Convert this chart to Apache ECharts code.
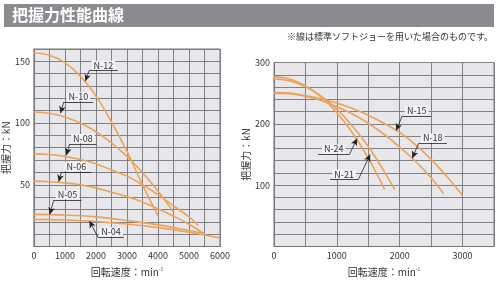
<!DOCTYPE html>
<html>
<head>
<meta charset="utf-8">
<script src="https://cdn.jsdelivr.net/npm/echarts@6/dist/echarts.min.js"></script>
<style>
  html, body { margin: 0; padding: 0; background: #fff; }
  #chart { width: 500px; height: 282px; }
</style>
</head>
<body>
<div id="chart"></div>
<script>
// left chart: N-04 .. N-12  (rpm, kN)
var rpmN12 = [0, 500, 1000, 1500, 2000, 2500, 3000, 3500, 4000];
var gripN12 = [157, 155, 149, 138, 122, 101, 77, 50, 25];
var rpmN10 = [0, 500, 1000, 1500, 2000, 2500, 3000, 3500, 4000, 4500];
var gripN10 = [109, 108, 105, 100, 93, 84, 73, 60, 45, 28];
var rpmN08 = [0, 500, 1000, 1500, 2000, 2500, 3000, 3500, 4000, 4500, 5000, 5300];
var gripN08 = [75, 74.5, 73, 70.5, 67, 62, 57, 50, 42, 33, 24, 17];
var rpmN06 = [0, 500, 1000, 1500, 2000, 2500, 3000, 3500, 4000, 4500, 5000, 5500];
var gripN06 = [53, 52.5, 51.5, 50, 47.5, 44, 40.5, 36, 30.5, 24.5, 18, 10];
var rpmN05 = [0, 1000, 2000, 3000, 4000, 5000, 5500];
var gripN05 = [26, 25.5, 24, 21, 17.5, 13, 10.5];
var rpmN04 = [0, 1000, 2000, 3000, 4000, 5000, 6000];
var gripN04 = [22, 21.5, 20.3, 18.2, 15.3, 11.5, 7];

// right chart: N-15 .. N-24
var rpmN15 = [0, 250, 500, 750, 1000, 1250, 1500, 1750, 2000, 2250, 2500, 2750, 3000];
var gripN15 = [251, 250, 246, 241, 234, 225, 214, 201, 186, 166, 142, 114, 83];
var rpmN18 = [0, 250, 500, 750, 1000, 1250, 1500, 1750, 2000, 2250, 2500, 2700];
var gripN18 = [250, 249, 245, 238, 228, 216, 201, 183, 162, 139, 112, 86];
var rpmN21 = [0, 250, 500, 750, 1000, 1250, 1500, 1750, 1920];
var gripN21 = [273, 270, 261, 245, 224, 196, 163, 123, 93];
var rpmN24 = [0, 250, 500, 750, 1000, 1250, 1500, 1760];
var gripN24 = [277, 273, 262, 244, 218, 185, 144, 93];

var leftXTicks = [0, 1000, 2000, 3000, 4000, 5000, 6000];
var leftYTicks = [50, 100, 150];
var rightXTicks = [0, 1000, 2000, 3000];
var rightYTicks = [100, 200, 300];

// label callouts: [tip on curve, underline start, underline end]
var calloutsLeft = {
  'N-12': [[1660, 134], [1780, 142.5], [2700, 142.5]],
  'N-10': [[860, 108], [960, 117], [1910, 117]],
  'N-08': [[1050, 74], [1150, 83], [2010, 83]],
  'N-06': [[800, 52.5], [890, 60.5], [1850, 60.5]],
  'N-05': [[510, 26], [640, 37.5], [1530, 37.5]],
  'N-04': [[1790, 20.7], [2070, 7.4], [2900, 7.4]]
};
var calloutsRight = {
  'N-15': [[1945, 189], [2040, 213], [2500, 213]],
  'N-18': [[2200, 144], [2300, 168], [2750, 168]],
  'N-24': [[1320, 176], [1200, 150], [700, 150]],
  'N-21': [[1530, 150], [1340, 109], [890, 109]]
};

var font = '"Noto Sans CJK JP", "Noto Sans", sans-serif';
var curveColor = '#eba35c';
var gridColor = '#7f7f84';

function zip(xs, ys) {
  return xs.map(function (x, i) { return [x, ys[i]]; });
}

function curve(name, xs, ys, idx, callouts) {
  var c = callouts[name];
  return {
    name: name,
    type: 'line',
    xAxisIndex: idx,
    yAxisIndex: idx,
    data: zip(xs, ys),
    smooth: 0.4,
    symbol: 'none',
    silent: true,
    lineStyle: { color: curveColor, width: 1.6 },
    z: 3,
    markLine: {
      silent: true,
      animation: false,
      symbolSize: [5, 7],
      lineStyle: { color: '#222', width: 0.8, type: 'solid' },
      data: [
        [
          { coord: c[0], symbol: 'arrow' },
          { coord: c[1], symbol: 'none' }
        ],
        [
          { coord: c[1], symbol: 'none',
            label: {
              show: true, position: 'insideMiddleTop', distance: 1,
              formatter: name, color: '#333', fontSize: 9, fontFamily: font,
              backgroundColor: '#f3f3f5', padding: [0, 2, 0, 2]
            }
          },
          { coord: c[2], symbol: 'none' }
        ]
      ]
    }
  };
}

function xAxis(idx, max, ticks) {
  return {
    gridIndex: idx, type: 'value', min: 0, max: max, interval: 500,
    name: '回転速度：min{s|-1}', nameLocation: 'middle', nameGap: 20,
    nameTextStyle: {
      color: '#333', fontSize: 10, fontFamily: font,
      rich: { s: { fontSize: 5, verticalAlign: 'top', color: '#333', padding: [0, 0, 6, 0] } }
    },
    axisLine: { show: true, lineStyle: { color: '#777' } },
    axisTick: { show: false },
    axisLabel: {
      color: '#333', fontSize: 9, fontFamily: font, margin: 5,
      formatter: function (v) { return ticks.indexOf(v) >= 0 ? String(v) : ''; }
    },
    splitLine: { show: true, lineStyle: { color: gridColor, width: 1 } }
  };
}

function yAxis(idx, max, interval, ticks) {
  return {
    gridIndex: idx, type: 'value', min: 0, max: max, interval: interval,
    name: '把握力：kN', nameLocation: 'middle', nameGap: 20, nameRotate: 90,
    nameTextStyle: { color: '#333', fontSize: 10, fontFamily: font },
    axisLine: { show: true, lineStyle: { color: '#777' } },
    axisTick: { show: false },
    axisLabel: {
      color: '#333', fontSize: 9, fontFamily: font, margin: 4,
      formatter: function (v) { return ticks.indexOf(v) >= 0 ? String(v) : ''; }
    },
    splitLine: { show: true, lineStyle: { color: gridColor, width: 1 } }
  };
}

var chart = echarts.init(document.getElementById('chart'), null, { renderer: 'canvas' });

chart.setOption({
  animation: false,
  backgroundColor: '#fff',
  graphic: [
    { type: 'rect', shape: { x: 4, y: 4, width: 490, height: 23 },
      style: { fill: '#8c8c90' }, silent: true },
    { type: 'text', left: 12, top: 7,
      style: { text: '把握力性能曲線', fill: '#fff', font: 'bold 16px ' + font }, silent: true },
    { type: 'text', right: 7, top: 32,
      style: { text: '※線は標準ソフトジョーを用いた場合のものです。', fill: '#333', font: '9px ' + font },
      silent: true }
  ],
  grid: [
    { left: 32, top: 49, width: 188, height: 201, show: true,
      backgroundColor: '#e8e8ec', borderColor: '#777', borderWidth: 1 },
    { left: 274, top: 62.5, width: 220, height: 187.5, show: true,
      backgroundColor: '#e8e8ec', borderColor: '#777', borderWidth: 1 }
  ],
  xAxis: [xAxis(0, 6000, leftXTicks), xAxis(1, 3500, rightXTicks)],
  yAxis: [yAxis(0, 160, 10, leftYTicks), yAxis(1, 300, 20, rightYTicks)],
  series: [
    curve('N-12', rpmN12, gripN12, 0, calloutsLeft),
    curve('N-10', rpmN10, gripN10, 0, calloutsLeft),
    curve('N-08', rpmN08, gripN08, 0, calloutsLeft),
    curve('N-06', rpmN06, gripN06, 0, calloutsLeft),
    curve('N-05', rpmN05, gripN05, 0, calloutsLeft),
    curve('N-04', rpmN04, gripN04, 0, calloutsLeft),
    curve('N-15', rpmN15, gripN15, 1, calloutsRight),
    curve('N-18', rpmN18, gripN18, 1, calloutsRight),
    curve('N-21', rpmN21, gripN21, 1, calloutsRight),
    curve('N-24', rpmN24, gripN24, 1, calloutsRight)
  ]
});
</script>
</body>
</html>
